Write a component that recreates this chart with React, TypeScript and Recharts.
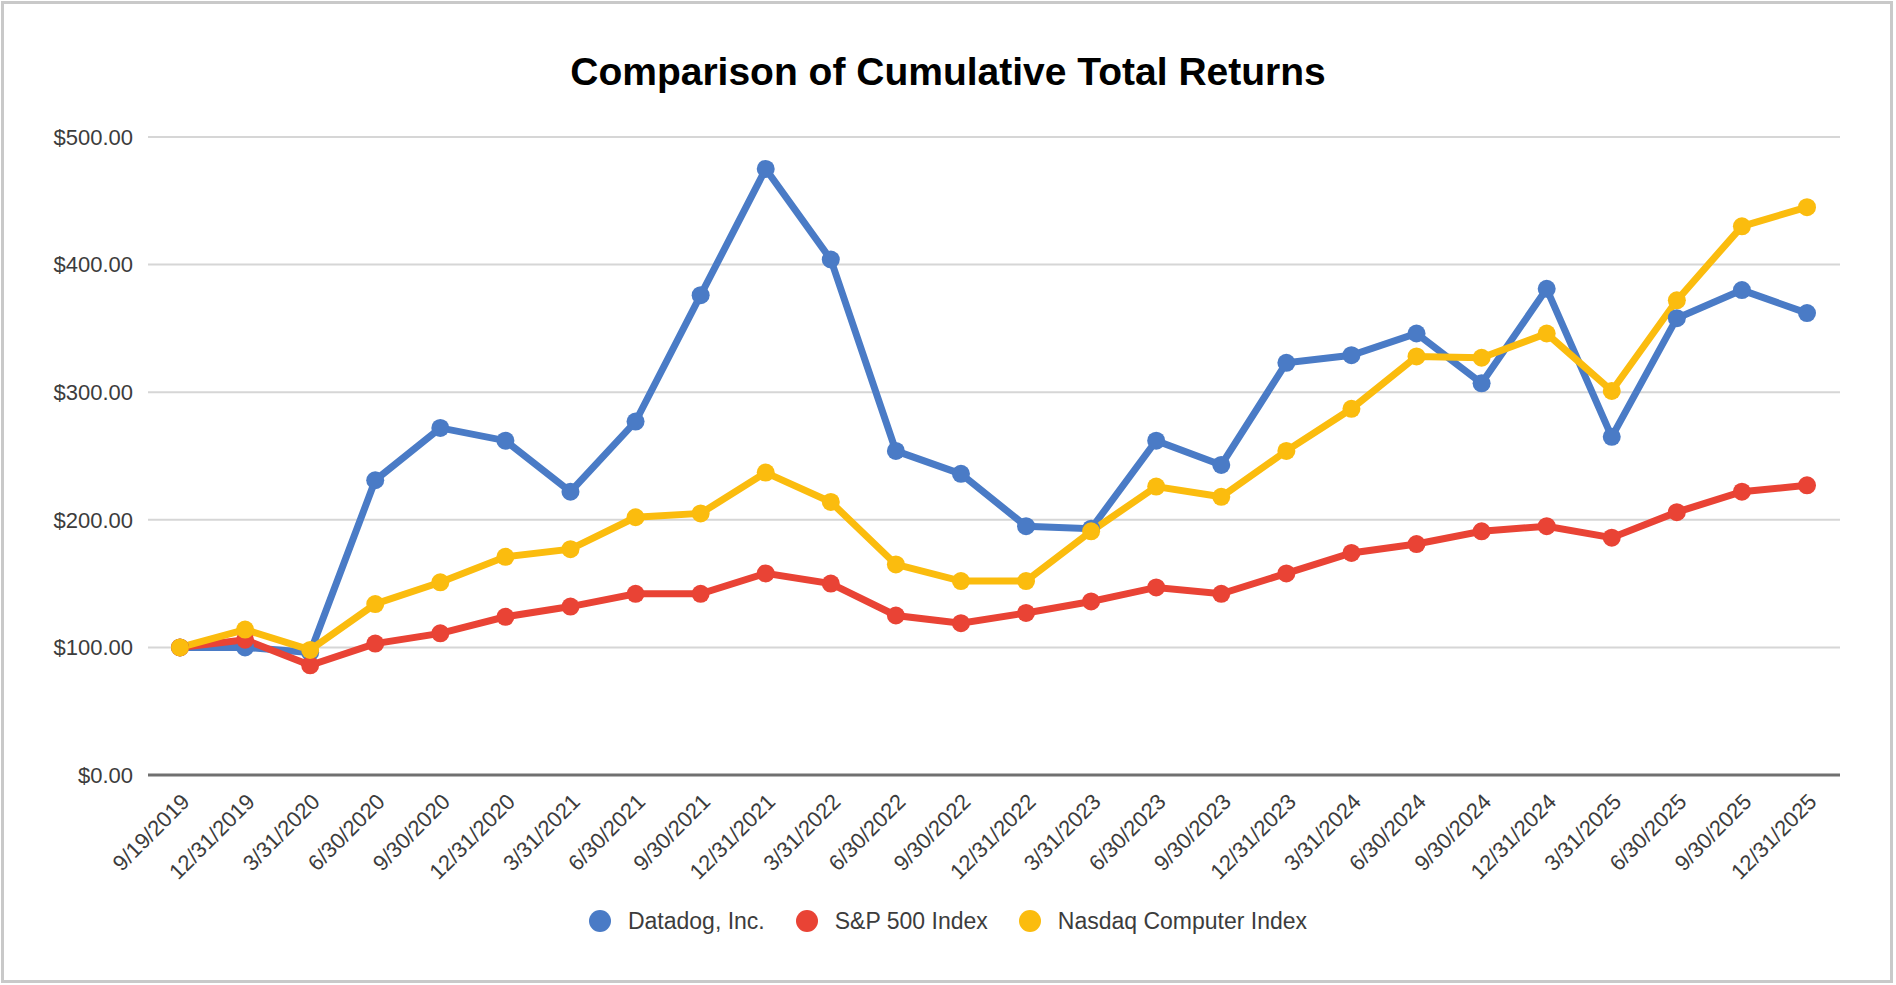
import { LineChart, Line, XAxis, YAxis, CartesianGrid } from "recharts"

const dates = [
  "9/19/2019", "12/31/2019", "3/31/2020", "6/30/2020", "9/30/2020", "12/31/2020",
  "3/31/2021", "6/30/2021", "9/30/2021", "12/31/2021", "3/31/2022", "6/30/2022",
  "9/30/2022", "12/31/2022", "3/31/2023", "6/30/2023", "9/30/2023", "12/31/2023",
  "3/31/2024", "6/30/2024", "9/30/2024", "12/31/2024", "3/31/2025", "6/30/2025",
  "9/30/2025", "12/31/2025",
]

const datadog = [100, 100, 96, 231, 272, 262, 222, 277, 376, 475, 404, 254, 236, 195, 193, 262, 243, 323, 329, 346, 307, 381, 265, 358, 380, 362]
const sp500 = [100, 106, 86, 103, 111, 124, 132, 142, 142, 158, 150, 125, 119, 127, 136, 147, 142, 158, 174, 181, 191, 195, 186, 206, 222, 227]
const nasdaq = [100, 114, 98, 134, 151, 171, 177, 202, 205, 237, 214, 165, 152, 152, 191, 226, 218, 254, 287, 328, 327, 346, 301, 372, 430, 445]

const yTicks = [0, 100, 200, 300, 400, 500]

const series = [
  { key: "datadog", name: "Datadog, Inc.", color: "#4a7bc6" },
  { key: "sp500", name: "S&P 500 Index", color: "#e94335" },
  { key: "nasdaq", name: "Nasdaq Computer Index", color: "#fbbc0e" },
]

const data = dates.map((date, i) => ({
  date,
  datadog: datadog[i],
  sp500: sp500[i],
  nasdaq: nasdaq[i],
}))

const FONT = "'Liberation Sans', Arial, sans-serif"

function DateTick(props: any) {
  const { x, y, payload } = props
  return (
    <text
      transform={`translate(${x + 11},${y + 28}) rotate(-45)`}
      textAnchor="end"
      fontSize={22}
      fill="#3c3c3c"
      fontFamily={FONT}
    >
      {payload.value}
    </text>
  )
}

export default function App() {
  return (
    <div style={{ position: "absolute", left: 0, top: 0, width: 1896, height: 985, background: "#fff", fontFamily: FONT }}>
      <div
        style={{
          position: "absolute",
          left: 1,
          top: 1,
          width: 1892,
          height: 982,
          border: "3px solid #c9c9c9",
          boxSizing: "border-box",
        }}
      />
      <div
        style={{
          position: "absolute",
          left: 0,
          top: 52,
          width: 1896,
          textAlign: "center",
          fontSize: 39,
          lineHeight: "39px",
          fontWeight: "bold",
          color: "#000",
        }}
      >
        Comparison of Cumulative Total Returns
      </div>
      <div style={{ position: "absolute", left: 0, top: 0 }}>
        <LineChart width={1896} height={985} data={data} margin={{ top: 137, right: 56, bottom: 100, left: 0 }}>
          <CartesianGrid vertical={false} stroke="#d6d6d6" strokeWidth={2} />
          <XAxis
            dataKey="date"
            interval={0}
            height={110}
            padding={{ left: 32, right: 33 }}
            tickSize={0}
            tickMargin={0}
            tick={<DateTick />}
            axisLine={{ stroke: "#707070", strokeWidth: 3 }}
          />
          <YAxis
            width={148}
            domain={[0, 500]}
            ticks={yTicks}
            tickFormatter={(v: number) => `$${v.toFixed(2)}`}
            axisLine={false}
            tickSize={0}
            tickMargin={15}
            tick={{ fontSize: 22, fill: "#3c3c3c", fontFamily: FONT }}
          />
          {series.map((s) => (
            <Line
              key={s.key}
              dataKey={s.key}
              name={s.name}
              stroke={s.color}
              strokeWidth={7}
              dot={{ r: 9, fill: s.color, stroke: s.color, strokeWidth: 0 }}
              activeDot={false}
              isAnimationActive={false}
            />
          ))}
        </LineChart>
      </div>
      <div
        style={{
          position: "absolute",
          left: 0,
          top: 906,
          width: 1896,
          display: "flex",
          justifyContent: "center",
          alignItems: "center",
          fontSize: 23,
          color: "#3c3c3c",
          lineHeight: "30px",
        }}
      >
        {series.map((s, i) => (
          <div key={s.key} style={{ display: "flex", alignItems: "center", marginLeft: i === 0 ? 0 : 31 }}>
            <span style={{ width: 22, height: 22, borderRadius: 11, background: s.color, display: "inline-block", marginRight: 17 }} />
            <span>{s.name}</span>
          </div>
        ))}
      </div>
    </div>
  )
}
